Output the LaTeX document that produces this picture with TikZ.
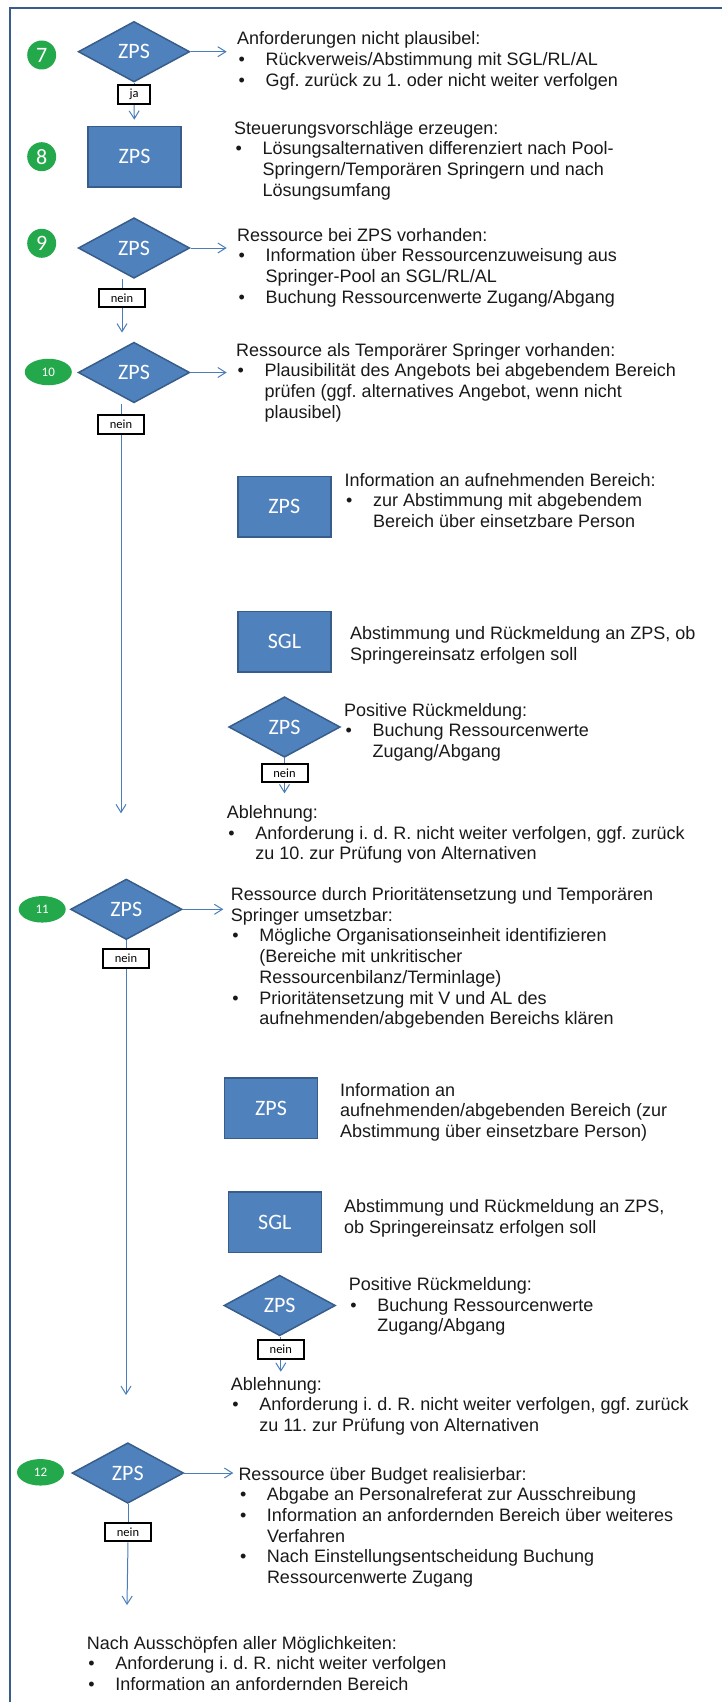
\documentclass[tikz,border=0pt]{standalone}
\usepackage{fontspec}
\newfontfamily\arialf{Liberation Sans}
\newfontfamily\calf{Carlito}
\usetikzlibrary{shapes.geometric,arrows.meta}

\definecolor{shapefill}{HTML}{4F81BD}
\definecolor{shapeedge}{HTML}{385D8A}
\definecolor{linkblue}{HTML}{4A7EBB}
\definecolor{stepgreen}{RGB}{35,168,75}
\definecolor{frameblue}{HTML}{385D8A}
\definecolor{bodyink}{gray}{0.1}

% hanging indent for bullet items
\newlength\bw \setlength\bw{28.5pt}
\newcommand\bu{\hspace*{1.5pt}\makebox[\dimexpr\bw-1.5pt\relax][l]{•}}
\newcommand\hi{\hspace*{\bw}}
\newcommand\blk[1]{\parbox[t]{480pt}{\raggedright\frenchspacing\arialf\fontsize{18}{20.7}\selectfont #1}}

\tikzset{
  txt/.style={anchor=base west, inner sep=0pt, text=bodyink},
  zpsd/.style={diamond, fill=shapefill, draw=shapeedge, line width=1.5pt,
    minimum width=111.5pt, minimum height=60.5pt, inner sep=0pt, text=white,
    font=\calf\fontsize{22}{22}\selectfont},
  zpsr/.style={rectangle, fill=shapefill, draw=shapeedge, line width=1.5pt,
    minimum width=93pt, minimum height=60.5pt, inner sep=0pt, text=white,
    font=\calf\fontsize{22}{22}\selectfont},
  numc/.style={circle, fill=stepgreen, minimum size=29pt, inner sep=0pt,
    text=white, font=\calf\fontsize{22}{22}\selectfont},
  nume/.style={ellipse, fill=stepgreen, minimum width=47pt, minimum height=26.5pt,
    inner sep=0pt, text=white, font=\calf\fontsize{13}{13}\selectfont},
  tagbox/.style={rectangle, draw=black, line width=2pt, fill=white,
    minimum width=46pt, minimum height=18.7pt, inner sep=0pt,
    font=\calf\fontsize{12.5}{12.5}\selectfont},
  link/.style={draw=linkblue, line width=1pt},
  arr/.style={link, -{Straight Barb[length=8pt,width=10pt]}},
}

\begin{document}
\begin{tikzpicture}[x=1pt, y=-1pt]
\useasboundingbox (0,0) rectangle (722,1702);

% frame
\draw[frameblue, line width=2pt] (9.5,1702) -- (9.5,8.5) -- (722,8.5);

% ---------- step 7 ----------
\node[numc] (c7) at (41.7,55) {7};
\node[zpsd] (d7) at (134,51.7) {ZPS};
\node[tagbox, minimum width=32pt] (ja) at (134,94.7) {ja};
\coordinate (a7) at (226.7,51.7);
\node[txt] (t7) at (237,45) {\blk{Anforderungen nicht plausibel:\\
  \bu Rückverweis/Abstimmung mit SGL/RL/AL\\
  \bu Ggf. zurück zu 1. oder nicht weiter verfolgen}};

% ---------- step 8 ----------
\node[numc] (c8) at (41.7,156.7) {8};
\node[zpsr] (r8) at (134.5,156.7) {ZPS};
\node[txt] (t8) at (234,134) {\blk{Steuerungsvorschläge erzeugen:\\
  \bu Lösungsalternativen differenziert nach Pool-\\
  \hi Springern/Temporären Springern und nach\\
  \hi Lösungsumfang}};

% ---------- step 9 ----------
\node[numc] (c9) at (41.7,243.3) {9};
\node[zpsd] (d9) at (134,248) {ZPS};
\node[tagbox] (n9) at (122,298) {nein};
\coordinate (a9) at (226.7,248);
\node[txt] (t9) at (237,241) {\blk{Ressource bei ZPS vorhanden:\\
  \bu Information über Ressourcenzuweisung aus\\
  \hi Springer-Pool an SGL/RL/AL\\
  \bu Buchung Ressourcenwerte Zugang/Abgang}};

% ---------- step 10 ----------
\node[nume] (e10) at (48.3,372) {10};
\node[zpsd] (d10) at (134,372.5) {ZPS};
\node[tagbox] (n10) at (121,424.7) {nein};
\coordinate (a10) at (226.7,372.5);
\coordinate (b10) at (121,813.3);
\node[txt] (t10) at (236,356) {\blk{Ressource als Temporärer Springer vorhanden:\\
  \bu Plausibilität des Angebots bei abgebendem Bereich\\
  \hi prüfen (ggf. alternatives Angebot, wenn nicht\\
  \hi plausibel)}};

\node[zpsr] (r10a) at (284.3,506.8) {ZPS};
\node[txt] (t10a) at (344.4,486) {\blk{Information an aufnehmenden Bereich:\\
  \bu zur Abstimmung mit abgebendem\\
  \hi Bereich über einsetzbare Person}};

\node[zpsr] (r10b) at (284.5,641.5) {SGL};
\node[txt] (t10b) at (350,639.5) {\blk{Abstimmung und Rückmeldung an ZPS, ob\\
  Springereinsatz erfolgen soll}};

\node[zpsd] (d10c) at (284.5,727) {ZPS};
\node[tagbox] (n10c) at (284.5,773) {nein};
\coordinate (b10c) at (284.5,793.3);
\node[txt] (t10c) at (344,716) {\blk{Positive Rückmeldung:\\
  \bu Buchung Ressourcenwerte\\
  \hi Zugang/Abgang}};

\node[txt] (x10) at (226.7,818.5) {\blk{Ablehnung:\\
  \bu Anforderung i. d. R. nicht weiter verfolgen, ggf. zurück\\
  \hi zu 10. zur Prüfung von Alternativen}};

% ---------- step 11 ----------
\node[nume] (e11) at (42.2,909.3) {11};
\node[zpsd] (d11) at (126.3,909.3) {ZPS};
\node[tagbox] (n11) at (126,958.7) {nein};
\coordinate (a11) at (223.3,909.3);
\coordinate (b11) at (126,1395);
\node[txt] (t11) at (230.7,900.5) {\blk{Ressource durch Prioritätensetzung und Temporären\\
  Springer umsetzbar:\\
  \bu Mögliche Organisationseinheit identifizieren\\
  \hi (Bereiche mit unkritischer\\
  \hi Ressourcenbilanz/Terminlage)\\
  \bu Prioritätensetzung mit V und AL des\\
  \hi aufnehmenden/abgebenden Bereichs klären}};

\node[zpsr] (r11a) at (271,1108.3) {ZPS};
\node[txt] (t11a) at (339.8,1096) {\blk{Information an\\
  aufnehmenden/abgebenden Bereich (zur\\
  Abstimmung über einsetzbare Person)}};

\node[zpsr] (r11b) at (274.8,1222.2) {SGL};
\node[txt] (t11b) at (344,1212.7) {\blk{Abstimmung und Rückmeldung an ZPS,\\
  ob Springereinsatz erfolgen soll}};

\node[zpsd] (d11c) at (279.7,1305.5) {ZPS};
\node[tagbox] (n11c) at (280.8,1349.2) {nein};
\coordinate (b11c) at (280.8,1371.7);
\node[txt] (t11c) at (348.7,1290.3) {\blk{Positive Rückmeldung:\\
  \bu Buchung Ressourcenwerte\\
  \hi Zugang/Abgang}};

\node[txt] (x11) at (230.7,1390) {\blk{Ablehnung:\\
  \bu Anforderung i. d. R. nicht weiter verfolgen, ggf. zurück\\
  \hi zu 11. zur Prüfung von Alternativen}};

% ---------- step 12 ----------
\node[nume] (e12) at (40.5,1472.3) {12};
\node[zpsd] (d12) at (127.8,1473) {ZPS};
\node[tagbox] (n12) at (128,1532) {nein};
\coordinate (a12) at (233.3,1473);
\coordinate (b12) at (127,1605);
\node[txt] (t12) at (238.3,1480) {\blk{Ressource über Budget realisierbar:\\
  \bu Abgabe an Personalreferat zur Ausschreibung\\
  \bu Information an anfordernden Bereich über weiteres\\
  \hi Verfahren\\
  \bu Nach Einstellungsentscheidung Buchung\\
  \hi Ressourcenwerte Zugang}};

\node[txt] (fin) at (86.6,1649) {\blk{Nach Ausschöpfen aller Möglichkeiten:\\
  \bu Anforderung i. d. R. nicht weiter verfolgen\\
  \bu Information an anfordernden Bereich}};

% ---------- connectors ----------
\draw[arr] (d7.east) -- (a7);
\draw[link] (d7.south) -- (ja.north);
\draw[arr, shorten >=6pt] (ja.south) -- (r8.north);

\draw[arr] (d9.east) -- (a9);
\draw[link] (d9.south -| n9) -- (n9.north);
\draw[arr, shorten >=9pt] (n9.south) -- (n9.south |- d10.north);

\draw[arr] (d10.east) -- (a10);
\draw[link] (d10.south -| n10) -- (n10.north);
\draw[arr] (n10.south) -- (b10);

\draw[link] (d10c.south) -- (n10c.north);
\draw[arr] (n10c.south) -- (b10c);

\draw[arr] (d11.east) -- (a11);
\draw[link] (d11.south -| n11) -- (n11.north);
\draw[arr] (n11.south) -- (b11);

\draw[link] (d11c.south -| n11c) -- (n11c.north);
\draw[arr] (n11c.south) -- (b11c);

\draw[arr] (d12.east) -- (a12);
\draw[link] (d12.south -| n12) -- (n12.north);
\draw[arr] (n12.south) -- (b12);
\end{tikzpicture}
\end{document}
